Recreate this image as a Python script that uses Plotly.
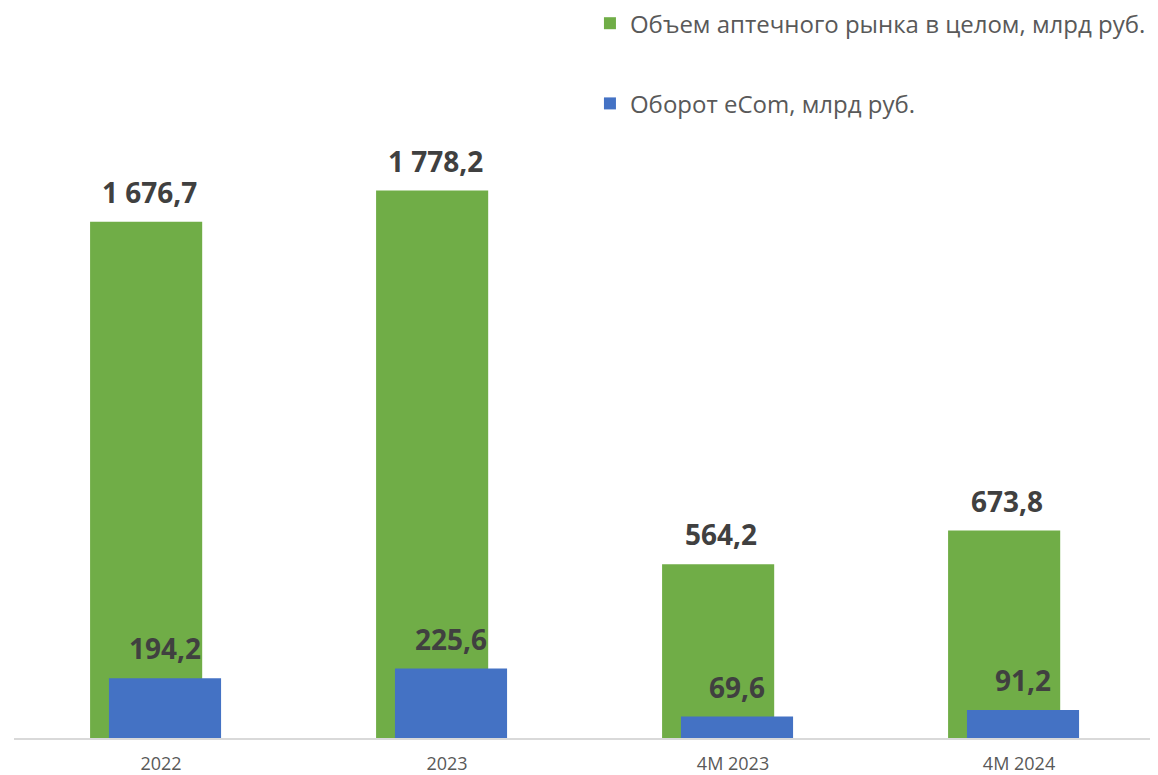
import plotly.graph_objects as go

categories = ["2022", "2023", "4M 2023", "4M 2024"]
market_total = [1676.7, 1778.2, 564.2, 673.8]
ecom_turnover = [194.2, 225.6, 69.6, 91.2]
series_names = ["Объем аптечного рынка в целом, млрд руб.", "Оборот eCom, млрд руб."]

GREEN = "#70AD47"
BLUE = "#4472C4"
FONT = "Open Sans"


def fmt(v):
    return f"{v:,.1f}".replace(",", " ").replace(".", ",")


BAR_W = 0.392
GREEN_OFF = -0.248
BLUE_OFF = -0.182
PX_PER_CAT = 286

fig = go.Figure()
fig.add_trace(go.Bar(
    x=categories, y=market_total, name=series_names[0],
    marker=dict(color=GREEN, line=dict(width=0)),
    width=BAR_W, offset=GREEN_OFF, legendgroup="a",
))
fig.add_trace(go.Bar(
    x=categories, y=ecom_turnover, name=series_names[1],
    marker=dict(color=BLUE, line=dict(width=0)),
    width=BAR_W, offset=BLUE_OFF, legendgroup="b",
))

annotations = []
for i, v in enumerate(market_total):
    annotations.append(dict(
        x=i, y=v, xref="x", yref="y", text=f"<b>{fmt(v)}</b>", showarrow=False,
        xshift=(GREEN_OFF + BAR_W / 2) * PX_PER_CAT + 3, yanchor="bottom", yshift=9,
        font=dict(family=FONT, size=28, color="#404040"),
    ))
for i, v in enumerate(ecom_turnover):
    annotations.append(dict(
        x=i, y=v, xref="x", yref="y", text=f"<b>{fmt(v)}</b>", showarrow=False,
        xshift=(BLUE_OFF + BAR_W / 2) * PX_PER_CAT, yanchor="bottom", yshift=9,
        font=dict(family=FONT, size=28, color="#404040"),
    ))

fig.update_layout(
    width=1150, height=767,
    margin=dict(l=6, r=8, t=122, b=37, autoexpand=False),
    barmode="overlay",
    plot_bgcolor="white", paper_bgcolor="white",
    font=dict(family=FONT, color="#595959"),
    showlegend=True,
    legend=dict(
        x=0.507, y=1.212, xanchor="left", yanchor="top",
        font=dict(family=FONT, size=24, color="#595959"),
        traceorder="grouped", tracegroupgap=46,
        bgcolor="rgba(0,0,0,0)",
    ),
    annotations=annotations,
    xaxis=dict(
        type="category", range=[-0.514, 3.458],
        showline=True, linecolor="#d9d9d9", linewidth=1.5,
        ticks="outside", ticklen=9, tickcolor="rgba(0,0,0,0)",
        tickfont=dict(family=FONT, size=18, color="#595959"),
        showgrid=False, zeroline=False, fixedrange=True,
    ),
    yaxis=dict(
        range=[0, 1975], visible=False, showgrid=False, zeroline=False,
    ),
)

fig.write_html("out.html")
